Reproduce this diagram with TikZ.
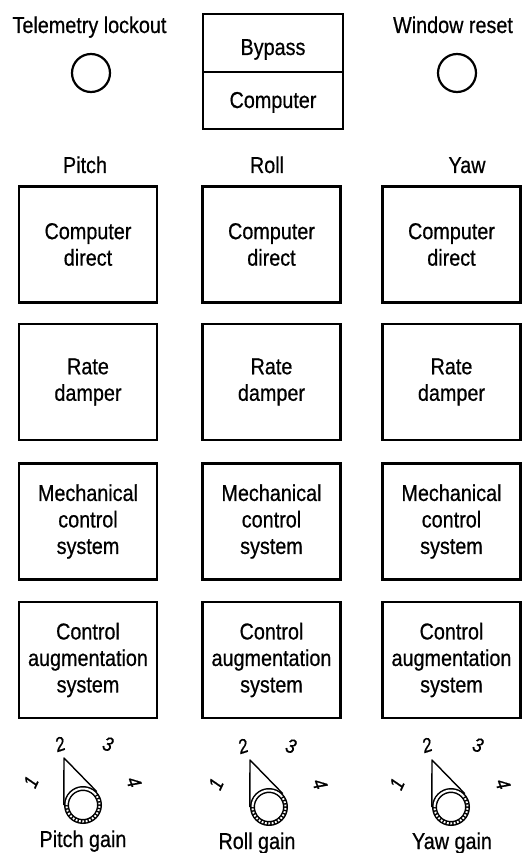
\documentclass[tikz,border=0pt]{standalone}
\usepackage{fontspec}
\setmainfont{Liberation Sans}[FakeStretch=0.86,FakeBold=0.6]
\newcommand\boxfont{\fontsize{23}{26.5}\selectfont}
\newcommand\lblfont{\fontsize{23}{26}\selectfont}
\newcommand\digfont{\fontsize{20}{22}\selectfont\itshape}
\begin{document}
\begin{tikzpicture}[x=1pt,y=-1pt,
  panel/.style={draw, line width=2.2pt, minimum width=138pt, minimum height=116pt,
    align=center, font=\boxfont, inner sep=0pt},
  lbl/.style={anchor=base, font=\lblfont, inner sep=0pt},
  lamp/.style={draw, circle, line width=2.2pt, minimum size=38pt, inner sep=0pt},
  digit/.style={font=\digfont, inner sep=0pt},
  pointer/.style={line width=1.4pt, line join=round},
  ring/.style={line width=5pt},
  ringgap/.style={white, line width=2pt},
  beads/.style={white, line width=2pt, dash pattern=on 1.8pt off 1.6pt}]
\useasboundingbox (0,0) rectangle (522,853);

% top row
\node[lbl] (tl) at (89.5,33) {Telemetry lockout};
\node[lamp] (tlc) at (91,73) {};
\node[lbl] (wr) at (453,33) {Window reset};
\node[lamp] (wrc) at (457,73) {};
\node[draw, line width=2.2pt, minimum width=140pt, minimum height=58pt, inner sep=0pt] (bypass) at (273,43) {};
\node[draw, line width=2.2pt, minimum width=140pt, minimum height=57pt, inner sep=0pt] (computer) at (273,100.5) {};
\node[lbl] (bypasst) at (273,55) {Bypass};
\node[lbl] (computert) at (273,108) {Computer};

% column headings
\node[lbl] (pitch) at (85,173) {Pitch};
\node[lbl] (roll) at (267,173) {Roll};
\node[lbl] (yaw) at (467,173) {Yaw};

% boxes
\foreach \c/\x in {p/88, r/271.5, y/451.5}{
  \node[panel] (\c1) at (\x,244.5) {Computer\\direct};
  \node[panel] (\c2) at (\x,382) {Rate\\damper};
  \node[panel] (\c3) at (\x,521.5) {Mechanical\\control\\system};
  \node[panel] (\c4) at (\x,660) {Control\\augmentation\\system};
}

% gain knobs
\begin{scope}[shift={(83,805)}, yscale=-1]
  \node[circle, inner sep=0pt, minimum size=38pt] (pk) at (0,0) {};
  \draw[ring] (0,0) circle (16.5);
  \draw[ringgap] (44:16.5) arc (44:180:16.5);
  \draw[beads] (44:16.5) arc (44:-180:16.5);
  \coordinate (pa) at (-19,47);
  \draw[pointer] (pk.180) -- (pa) -- (pk.44);
  \node[digit, rotate=65] (pn1) at (-52,23) {1};
  \node[digit, rotate=18] (pn2) at (-23,61) {2};
  \node[digit, rotate=-18] (pn3) at (25,61) {3};
  \node[digit, rotate=-70] (pn4) at (51,23) {4};
\end{scope}
\begin{scope}[shift={(269,807)}, yscale=-1]
  \node[circle, inner sep=0pt, minimum size=38pt] (rk) at (0,0) {};
  \draw[ring] (0,0) circle (16.5);
  \draw[ringgap] (44:16.5) arc (44:180:16.5);
  \draw[beads] (44:16.5) arc (44:-180:16.5);
  \coordinate (ra) at (-19,47);
  \draw[pointer] (rk.180) -- (ra) -- (rk.44);
  \node[digit, rotate=65] (rn1) at (-53,23) {1};
  \node[digit, rotate=18] (rn2) at (-26,61) {2};
  \node[digit, rotate=-18] (rn3) at (22,61) {3};
  \node[digit, rotate=-70] (rn4) at (51,23) {4};
\end{scope}
\begin{scope}[shift={(451,807)}, yscale=-1]
  \node[circle, inner sep=0pt, minimum size=38pt] (yk) at (0,0) {};
  \draw[ring] (0,0) circle (16.5);
  \draw[ringgap] (44:16.5) arc (44:180:16.5);
  \draw[beads] (44:16.5) arc (44:-180:16.5);
  \coordinate (ya) at (-19,47);
  \draw[pointer] (yk.180) -- (ya) -- (yk.44);
  \node[digit, rotate=65] (yn1) at (-54,23) {1};
  \node[digit, rotate=18] (yn2) at (-24,62) {2};
  \node[digit, rotate=-18] (yn3) at (27,62) {3};
  \node[digit, rotate=-70] (yn4) at (52,23) {4};
\end{scope}

\node[lbl] (pg) at (83,847) {Pitch gain};
\node[lbl] (rg) at (257,849) {Roll gain};
\node[lbl] (yg) at (452,849) {Yaw gain};
\end{tikzpicture}
\end{document}
